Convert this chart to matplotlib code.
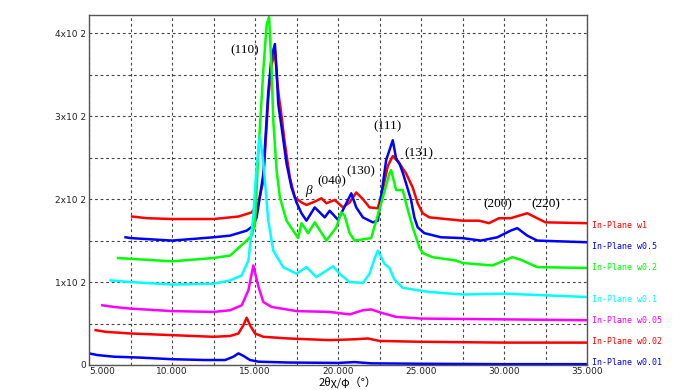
import matplotlib
matplotlib.use("Agg")
import matplotlib.pyplot as plt
from matplotlib.ticker import MultipleLocator

# ---------------- data ----------------
w1_x = [7.6, 8.5, 10.0, 12.5, 14.0, 14.8, 15.2, 15.5, 15.8, 16.0, 16.2, 16.35, 16.45, 16.55, 16.8, 17.1,
        17.4, 17.8, 18.1, 18.6, 19.0, 19.3, 19.8, 20.3, 20.7, 21.1, 21.5, 21.9, 22.4, 22.7, 23.0,
        23.3, 23.7, 24.1, 24.5, 24.8, 25.1, 25.5, 27.5, 28.5, 29.1, 29.7, 30.4, 31.4, 32.0, 32.5, 35.0]
w1_y = [179, 177, 176, 176, 179, 184, 195, 222, 322, 362, 378, 340, 322, 308, 267, 226,
        202, 196, 193, 197, 201, 195, 199, 190, 196, 208, 200, 190, 189, 212, 240,
        252, 243, 231, 214, 195, 183, 178, 174, 174, 171, 177, 177, 183, 177, 172, 171]

w05_x = [7.2, 7.5, 10.0, 12.5, 13.5, 14.5, 14.9, 15.1, 15.5, 15.8, 16.0, 16.2, 16.3, 16.4, 16.6,
         16.9, 17.2, 17.5, 17.8, 18.1, 18.6, 19.2, 19.5, 20.0, 20.5, 20.8, 21.1, 21.5, 22.1, 22.4,
         22.9, 23.1, 23.3, 23.5, 23.7, 23.9, 24.1, 24.4, 24.6, 24.8, 25.2, 26.2, 27.5, 28.6, 29.6,
         30.4, 30.8, 31.4, 32.0, 35.0]
w05_y = [154, 153, 150, 154, 156, 162, 168, 178, 230, 330, 372, 387, 355, 315, 287,
         243, 214, 196, 183, 174, 190, 178, 186, 175, 195, 207, 190, 178, 172, 174,
         247, 259, 271, 249, 243, 232, 219, 199, 178, 166, 159, 154, 153, 150, 154,
         162, 165, 156, 150, 148]

w02_x = [6.75, 7.5, 10.0, 12.5, 13.5, 14.0, 14.5, 14.8, 15.0, 15.2, 15.5, 15.7, 15.85, 16.0, 16.1,
         16.3, 16.5, 16.9, 17.4, 17.6, 17.8, 18.2, 18.6, 19.3, 19.9, 20.2, 20.4, 20.7, 21.0, 22.0,
         22.6, 23.1, 23.2, 23.5, 23.9, 24.1, 24.5, 24.9, 25.1, 25.7, 27.1, 27.5, 29.3, 30.5, 31.0,
         32.0, 35.0]
w02_y = [129, 128, 125, 129, 132, 141, 150, 156, 170, 255, 355, 410, 420, 355, 295,
         235, 202, 174, 159, 153, 171, 159, 172, 150, 166, 184, 180, 159, 150, 153,
         195, 231, 235, 211, 211, 195, 166, 142, 135, 130, 126, 123, 120, 130, 127,
         118, 117]

w01_x = [6.3, 7.5, 10.0, 12.5, 13.5, 14.2, 14.6, 14.9, 15.1, 15.3, 15.5, 15.8, 16.1, 16.7, 17.5,
         18.1, 18.7, 19.7, 20.1, 20.7, 21.5, 21.9, 22.2, 22.4, 22.8, 23.1, 23.4, 23.9, 25.5, 27.5,
         30.0, 32.5, 35.0]
w01_y = [102, 100, 97, 98, 102, 108, 126, 180, 240, 276, 245, 174, 138, 118, 110,
         118, 106, 119, 110, 100, 99, 110, 128, 138, 122, 117, 103, 93, 88, 85,
         86, 84, 82]

w005_x = [5.8, 6.5, 7.5, 10.0, 12.5, 13.5, 14.2, 14.6, 14.9, 15.2, 15.5, 16.0, 17.5, 19.5, 20.7,
          21.5, 22.0, 22.6, 23.5, 25.0, 30.0, 35.0]
w005_y = [72, 70, 68, 65, 64, 66, 72, 90, 120, 95, 76, 70, 65, 64, 61,
          66, 67, 63, 58, 56, 55, 54]

w002_x = [5.4, 6.0, 7.5, 10.0, 12.5, 13.5, 14.0, 14.3, 14.5, 14.7, 15.0, 15.5, 17.0, 19.5, 21.0,
          21.8, 22.5, 25.0, 30.0, 35.0]
w002_y = [42, 40, 38, 36, 34, 35, 38, 48, 57, 48, 38, 34, 32, 30, 31,
          32, 29, 28, 27, 27]

w001_x = [5.0, 5.5, 6.5, 8.0, 10.0, 12.0, 13.2, 13.7, 14.0, 14.3, 14.7, 15.2, 17.0, 20.0, 21.0,
          22.0, 25.0, 30.0, 35.0]
w001_y = [14, 12, 10, 9, 7, 6, 6, 10, 14, 11, 6, 4, 3, 2.5, 3.5,
          2, 1.5, 1, 1]

series_names = ["In-Plane w1", "In-Plane w0.5", "In-Plane w0.2", "In-Plane w0.1",
                "In-Plane w0.05", "In-Plane w0.02", "In-Plane w0.01"]
series_x = [w1_x, w05_x, w02_x, w01_x, w005_x, w002_x, w001_x]
series_y = [w1_y, w05_y, w02_y, w01_y, w005_y, w002_y, w001_y]
series_colors = ["#ff0000", "#0000ff", "#00ff00", "#00ffff", "#ff00ff", "#ff0000", "#0000ff"]

peak_labels = ["(110)", "β", "(040)", "(130)", "(111)", "(131)", "(200)", "(220)"]
peak_x = [14.4, 18.2, 19.6, 21.4, 23.0, 24.9, 29.6, 32.5]
peak_y = [380, 210, 221, 233, 288, 255, 194, 194]

x_ticks = [5, 10, 15, 20, 25, 30, 35]
x_tick_labels = ["5.000", "10.000", "15.000", "20.000", "25.000", "30.000", "35.000"]
y_ticks = [0, 100, 200, 300, 400]
y_tick_labels = ["0", "1x10 2", "2x10 2", "3x10 2", "4x10 2"]

# ---------------- figure ----------------
fig = plt.figure(figsize=(6.8, 3.9), dpi=100)
ax = fig.add_axes([89 / 680, 25 / 390, (587 - 89) / 680, (365 - 15) / 390])

for xs, ys, c in zip(series_x, series_y, series_colors):
    ax.plot(xs, ys, color=c, lw=1.8, solid_joinstyle="round")

ax.set_xlim(5, 35)
ax.set_ylim(0, 422)

ax.set_xticks(x_ticks)
ax.set_xticklabels(x_tick_labels)
ax.set_yticks(y_ticks)
ax.set_yticklabels(y_tick_labels)
ax.xaxis.set_minor_locator(MultipleLocator(2.5))
ax.yaxis.set_minor_locator(MultipleLocator(50))
ax.tick_params(which="both", length=0, labelsize=6.5, colors="#222222", pad=2)
ax.tick_params(axis="x", pad=1.5)
ax.get_xticklabels()[0].set_horizontalalignment("left")

ax.grid(True, which="both", color="#444444", linestyle=(0, (2.5, 2.5)), linewidth=0.8)
ax.set_axisbelow(True)
for s in ax.spines.values():
    s.set_color("#555555")
    s.set_linewidth(1.0)

for t, x, y in zip(peak_labels, peak_x, peak_y):
    ax.text(x, y, t, ha="center", va="center", fontsize=9.5,
            family="Liberation Serif", style="italic" if t == "β" else "normal")

label_y = [168, 143, 117, 79, 54, 28, 2.5]
trans = ax.get_yaxis_transform()
for name, c, y in zip(series_names, series_colors, label_y):
    ax.text(1.01, y, name, transform=trans, color=c, fontsize=6,
            family="DejaVu Sans Mono", ha="left", va="center", clip_on=False)

fig.text(348 / 680, 1 - 383 / 390, "2θχ/φ（°）", ha="center", va="center",
         fontsize=8, family=["Noto Sans CJK JP", "DejaVu Sans"])

fig.savefig("out.png", dpi=100)
